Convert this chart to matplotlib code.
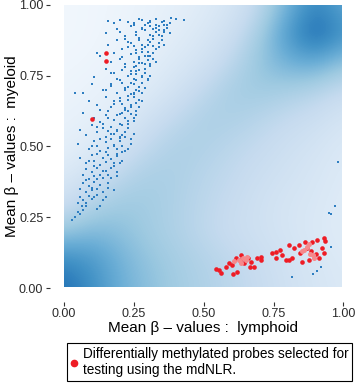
import numpy as np
import matplotlib
matplotlib.use("Agg")
import matplotlib.pyplot as plt
from matplotlib.patches import Rectangle
from matplotlib.lines import Line2D

plt.rcParams['font.family'] = ['Liberation Sans', 'DejaVu Sans']

# background density (Blues fraction), rows from y=1.0 down to y=0.0, columns x=0..1 step 0.1
density = np.array([
    [0.03, 0.04, 0.05, 0.07, 0.09, 0.12, 0.17, 0.27, 0.48, 0.68, 0.52],
    [0.03, 0.04, 0.06, 0.08, 0.11, 0.15, 0.22, 0.35, 0.60, 0.80, 0.62],
    [0.04, 0.05, 0.07, 0.10, 0.14, 0.19, 0.28, 0.40, 0.50, 0.52, 0.40],
    [0.05, 0.07, 0.09, 0.13, 0.19, 0.27, 0.35, 0.37, 0.34, 0.30, 0.24],
    [0.07, 0.09, 0.13, 0.20, 0.27, 0.33, 0.33, 0.29, 0.25, 0.22, 0.17],
    [0.09, 0.13, 0.19, 0.27, 0.33, 0.32, 0.28, 0.25, 0.21, 0.18, 0.14],
    [0.14, 0.20, 0.28, 0.34, 0.33, 0.29, 0.26, 0.22, 0.19, 0.16, 0.13],
    [0.22, 0.31, 0.37, 0.36, 0.32, 0.28, 0.24, 0.20, 0.17, 0.15, 0.12],
    [0.38, 0.45, 0.42, 0.36, 0.32, 0.27, 0.23, 0.20, 0.17, 0.14, 0.12],
    [0.66, 0.60, 0.48, 0.40, 0.35, 0.31, 0.27, 0.23, 0.19, 0.16, 0.13],
    [0.76, 0.64, 0.50, 0.42, 0.36, 0.32, 0.28, 0.24, 0.20, 0.17, 0.14],
])

# all probes (blue)
blue_x = [
    0.16, 0.18, 0.20, 0.23, 0.25, 0.27, 0.28, 0.30, 0.31, 0.33, 0.35, 0.36, 0.37, 0.385, 0.40, 0.43,
    0.15, 0.19, 0.22, 0.24, 0.26, 0.28, 0.29, 0.31, 0.32, 0.33, 0.34, 0.35, 0.36, 0.37, 0.38,
    0.12, 0.16, 0.19, 0.21, 0.23, 0.25, 0.26, 0.27, 0.28, 0.29, 0.30, 0.31, 0.32, 0.33, 0.34, 0.35, 0.36,
    0.13, 0.17, 0.20, 0.22, 0.24, 0.25, 0.26, 0.27, 0.28, 0.29, 0.30, 0.31, 0.32, 0.33,
    0.11, 0.15, 0.18, 0.20, 0.21, 0.23, 0.24, 0.25, 0.26, 0.27, 0.28, 0.29, 0.30, 0.31,
    0.04, 0.07, 0.10, 0.14, 0.17, 0.19, 0.21, 0.22, 0.23, 0.24, 0.25, 0.26, 0.27, 0.28, 0.29,
    0.09, 0.12, 0.15, 0.17, 0.18, 0.20, 0.21, 0.22, 0.23, 0.24, 0.25, 0.26, 0.27, 0.28,
    0.07, 0.11, 0.13, 0.15, 0.16, 0.18, 0.19, 0.20, 0.21, 0.22, 0.23, 0.24, 0.25, 0.26,
    0.06, 0.08, 0.10, 0.12, 0.14, 0.15, 0.16, 0.17, 0.18, 0.19, 0.20, 0.21, 0.22, 0.23, 0.25,
    0.05, 0.09, 0.11, 0.12, 0.13, 0.15, 0.16, 0.17, 0.18, 0.19, 0.20, 0.21, 0.22, 0.24,
    0.06, 0.08, 0.10, 0.11, 0.12, 0.13, 0.14, 0.15, 0.16, 0.17, 0.18, 0.19, 0.21,
    0.07, 0.08, 0.09, 0.10, 0.11, 0.12, 0.13, 0.14, 0.15, 0.16, 0.17, 0.19,
    0.06, 0.07, 0.08, 0.09, 0.10, 0.11, 0.12, 0.13, 0.14, 0.16,
    0.05, 0.06, 0.065, 0.07, 0.08, 0.09, 0.10, 0.11, 0.12,
    0.03, 0.04, 0.05, 0.06, 0.07, 0.08,
    0.29, 0.31, 0.33, 0.34, 0.36, 0.27, 0.30, 0.32, 0.34, 0.26, 0.28, 0.30, 0.32, 0.25, 0.27, 0.29,
    0.31, 0.24, 0.26, 0.28, 0.30, 0.23, 0.25, 0.27, 0.22, 0.24, 0.26, 0.21, 0.23, 0.25, 0.20, 0.22,
    0.24, 0.19, 0.21, 0.23, 0.18, 0.20, 0.17, 0.19, 0.16, 0.18, 0.14, 0.15, 0.12, 0.13,
    0.20, 0.22, 0.24, 0.26, 0.28, 0.30, 0.32, 0.34, 0.18, 0.21, 0.23, 0.25, 0.27, 0.29, 0.31,
    0.17, 0.19, 0.22, 0.24, 0.26, 0.28, 0.15, 0.17, 0.20, 0.22, 0.25, 0.27, 0.13, 0.16, 0.18,
    0.20, 0.23, 0.12, 0.14, 0.17, 0.19, 0.21, 0.10, 0.13, 0.15, 0.18, 0.09, 0.11, 0.14, 0.08,
    0.10, 0.12, 0.25, 0.28, 0.31, 0.33, 0.36, 0.38,
    0.98, 0.97, 0.957, 0.95, 0.957, 0.92, 0.906, 0.89, 0.816,
]
blue_y = [
    0.945, 0.935, 0.948, 0.94, 0.93, 0.95, 0.947, 0.938, 0.94, 0.952, 0.94, 0.945, 0.93, 0.953, 0.95, 0.948,
    0.90, 0.915, 0.89, 0.925, 0.905, 0.92, 0.91, 0.895, 0.915, 0.905, 0.925, 0.89, 0.91, 0.92, 0.90,
    0.83, 0.86, 0.875, 0.845, 0.87, 0.855, 0.84, 0.875, 0.86, 0.85, 0.835, 0.87, 0.855, 0.845, 0.865, 0.875, 0.86,
    0.82, 0.80, 0.81, 0.79, 0.825, 0.80, 0.785, 0.815, 0.795, 0.82, 0.805, 0.79, 0.81, 0.80,
    0.745, 0.775, 0.76, 0.735, 0.77, 0.75, 0.765, 0.74, 0.755, 0.77, 0.745, 0.76, 0.735, 0.75,
    0.69, 0.69, 0.72, 0.70, 0.715, 0.69, 0.725, 0.70, 0.71, 0.685, 0.72, 0.70, 0.71, 0.69, 0.705,
    0.66, 0.645, 0.675, 0.64, 0.66, 0.67, 0.65, 0.635, 0.665, 0.645, 0.675, 0.655, 0.64, 0.66,
    0.62, 0.60, 0.585, 0.61, 0.625, 0.595, 0.61, 0.58, 0.62, 0.60, 0.59, 0.615, 0.60, 0.625,
    0.56, 0.54, 0.575, 0.55, 0.565, 0.535, 0.555, 0.57, 0.545, 0.56, 0.535, 0.575, 0.55, 0.565, 0.545,
    0.51, 0.49, 0.52, 0.50, 0.485, 0.515, 0.495, 0.525, 0.505, 0.49, 0.52, 0.50, 0.485, 0.51,
    0.46, 0.44, 0.47, 0.45, 0.475, 0.435, 0.46, 0.445, 0.47, 0.455, 0.44, 0.465, 0.45,
    0.40, 0.42, 0.385, 0.41, 0.395, 0.425, 0.40, 0.39, 0.415, 0.40, 0.425, 0.41,
    0.35, 0.37, 0.34, 0.36, 0.345, 0.375, 0.35, 0.365, 0.34, 0.37,
    0.30, 0.32, 0.29, 0.31, 0.30, 0.325, 0.315, 0.32, 0.33,
    0.24, 0.25, 0.27, 0.26, 0.275, 0.29,
    0.93, 0.925, 0.93, 0.895, 0.905, 0.885, 0.875, 0.88, 0.85, 0.83, 0.835, 0.82, 0.83, 0.78, 0.795, 0.775,
    0.785, 0.725, 0.735, 0.725, 0.74, 0.68, 0.685, 0.695, 0.63, 0.64, 0.61, 0.575, 0.58, 0.59, 0.53, 0.535,
    0.525, 0.475, 0.48, 0.49, 0.43, 0.44, 0.39, 0.395, 0.355, 0.345, 0.31, 0.32, 0.28, 0.29,
    0.905, 0.88, 0.865, 0.895, 0.845, 0.86, 0.89, 0.91, 0.83, 0.815, 0.85, 0.80, 0.81, 0.79, 0.82,
    0.76, 0.74, 0.78, 0.755, 0.765, 0.75, 0.70, 0.72, 0.66, 0.705, 0.69, 0.665, 0.63, 0.60, 0.65,
    0.615, 0.625, 0.57, 0.58, 0.545, 0.555, 0.54, 0.50, 0.525, 0.48, 0.50, 0.45, 0.43, 0.415, 0.38,
    0.355, 0.385, 0.935, 0.915, 0.945, 0.92, 0.93, 0.935,
    0.445, 0.29, 0.26, 0.265, 0.145, 0.075, 0.06, 0.05, 0.04,
]

# probes selected for testing (red)
red_x = [
    0.545, 0.556, 0.563, 0.58, 0.59, 0.60, 0.617, 0.62, 0.605, 0.635, 0.645, 0.66, 0.67, 0.666,
    0.68, 0.69, 0.707, 0.707, 0.63,
    0.744, 0.76, 0.773, 0.76, 0.78, 0.795, 0.805, 0.816, 0.805, 0.823, 0.84, 0.852, 0.877, 0.863,
    0.888, 0.906, 0.93, 0.924, 0.93, 0.913, 0.87, 0.845, 0.90, 0.885, 0.935,
    0.152, 0.151, 0.10,
]
red_y = [
    0.067, 0.062, 0.053, 0.074, 0.088, 0.08, 0.105, 0.055, 0.05, 0.117, 0.09, 0.105, 0.092, 0.074,
    0.074, 0.105, 0.11, 0.099, 0.10,
    0.124, 0.127, 0.134, 0.106, 0.117, 0.10, 0.152, 0.106, 0.099, 0.141, 0.152, 0.092, 0.099, 0.163,
    0.163, 0.17, 0.177, 0.141, 0.124, 0.106, 0.14, 0.125, 0.12, 0.13, 0.165,
    0.829, 0.802, 0.596,
]
pink_x = [0.61, 0.625, 0.64, 0.65, 0.635, 0.655, 0.86, 0.87, 0.88, 0.89, 0.895, 0.85, 0.875]
pink_y = [0.095, 0.10, 0.105, 0.098, 0.088, 0.11, 0.135, 0.145, 0.12, 0.115, 0.105, 0.13, 0.155]

ticks = [0.00, 0.25, 0.50, 0.75, 1.00]
tick_labels = ["0.00", "0.25", "0.50", "0.75", "1.00"]

fig = plt.figure(figsize=(3.58, 3.83), dpi=100)
ax = fig.add_axes([0.1383, 0.211, 0.8603, 0.813])
ax.set_xlim(-0.05, 1.05)
ax.set_ylim(-0.05, 1.05)

im = ax.imshow(density[::-1], origin='lower', extent=(-0.05, 1.05, -0.05, 1.05),
               cmap='Blues', vmin=0, vmax=1, interpolation='bicubic', aspect='auto', zorder=0)
im.set_clip_path(Rectangle((0, 0.005), 0.99, 0.995, transform=ax.transData))

ax.scatter(blue_x, blue_y, s=4, marker='s', color='#2E7EC1', linewidths=0, zorder=2)
ax.scatter(red_x, red_y, s=11, marker='o', color='#EE1C25', linewidths=0, zorder=3)
ax.scatter(pink_x, pink_y, s=13, marker='o', color='#F5898C', linewidths=0, zorder=4)

for s in ax.spines.values():
    s.set_visible(False)
ax.set_xticks(ticks)
ax.set_xticklabels(tick_labels)
ax.set_yticks(ticks)
ax.set_yticklabels(tick_labels)
ax.tick_params(length=3, width=0.8, color='#333333', labelcolor='#2B2B2B', labelsize=9, pad=1.5)

fig.text(203 / 358, 1 - 328 / 383, "Mean β – values :  lymphoid", ha='center', va='center', fontsize=11)
fig.text(12 / 358, 1 - 146 / 383, "Mean β – values :  myeloid", ha='center', va='center',
         rotation=90, fontsize=11)

handle = Line2D([], [], marker='o', linestyle='', color='#EE1C25', markersize=4.5)
leg = fig.legend([handle], ["Differentially methylated probes selected for\ntesting using the mdNLR."],
                 loc='upper left', bbox_to_anchor=(67 / 358, 1 - 343 / 383), fancybox=False,
                 framealpha=1, edgecolor='black', fontsize=9.8, handlelength=0.5,
                 handletextpad=0.35, borderpad=0.3, borderaxespad=0)
leg.get_frame().set_linewidth(0.8)
for t in leg.get_texts():
    t.set_linespacing(1.15)

fig.savefig("out.png", dpi=100)
